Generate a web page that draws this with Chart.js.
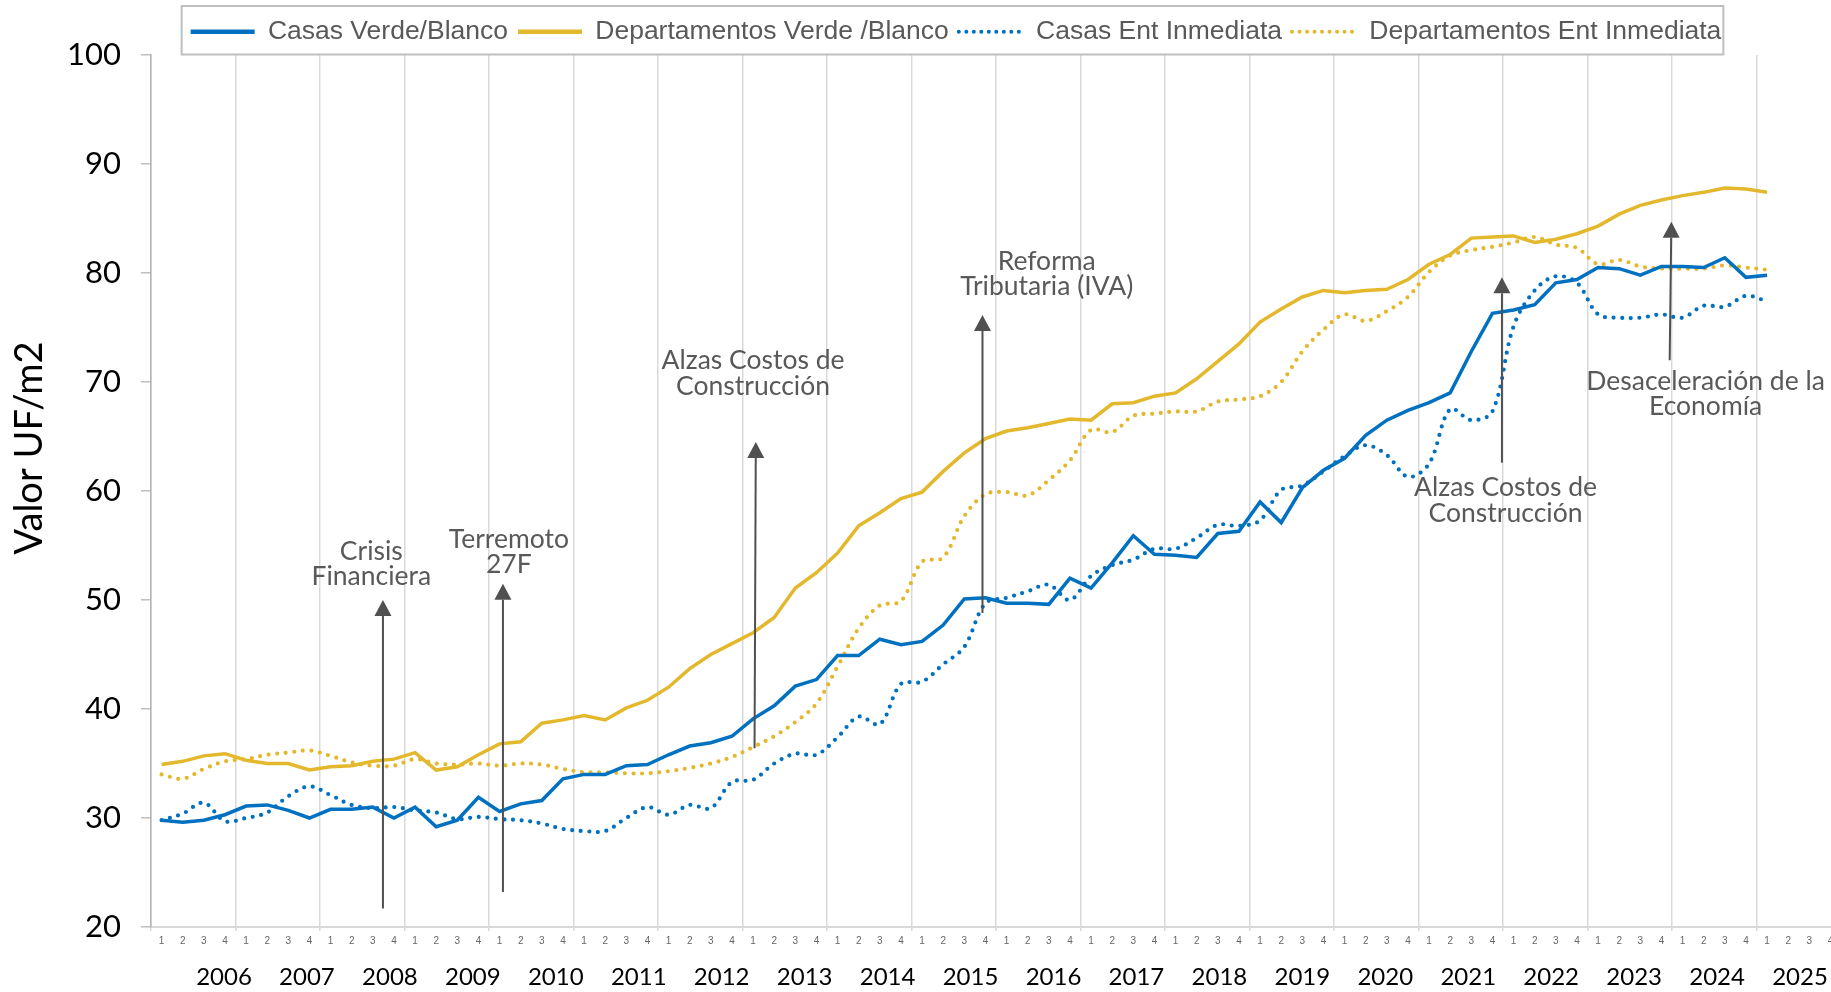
<!DOCTYPE html>
<html>
<head>
<meta charset="utf-8">
<title>Valor UF/m2</title>
<script src="https://cdn.jsdelivr.net/npm/chart.js@4.4.1/dist/chart.umd.min.js"></script>
<style>
  html, body { margin: 0; padding: 0; background: #fff; overflow: hidden; }
  #grafico { display: block; }
</style>
</head>
<body>
<canvas id="grafico" width="1850" height="992" style="width:1850px;height:992px"></canvas>
<script>
// trimestres 2006 T1 .. 2025 T1
const yearLabels = [2006, 2007, 2008, 2009, 2010, 2011, 2012, 2013, 2014, 2015,
                    2016, 2017, 2018, 2019, 2020, 2021, 2022, 2023, 2024, 2025];
const quarterNames = ['1', '2', '3', '4'];

const casasVerdeBlanco = [
  29.8, 29.6, 29.8, 30.3, 31.1, 31.2, 30.7, 30.0, 30.8, 30.8, 31.0, 30.0, 31.0, 29.2, 29.8, 31.9, 30.6, 31.3, 31.6, 33.6, 34.0, 34.0, 34.8,
  34.9, 35.8, 36.6, 36.9, 37.5, 39.1, 40.3, 42.1, 42.7, 44.9, 44.9, 46.4, 45.9, 46.2, 47.7, 50.1, 50.2, 49.7, 49.7, 49.6, 52.0, 51.1,
  53.4, 55.9, 54.2, 54.1, 53.9, 56.1, 56.3, 59.0, 57.1, 60.3, 61.9, 63.0, 65.1, 66.5, 67.4, 68.1, 69.0, 72.8, 76.3, 76.6, 77.1,
  79.1, 79.4, 80.5, 80.4, 79.8, 80.6, 80.6, 80.5, 81.4, 79.6, 79.8
];
const deptosVerdeBlanco = [
  34.9, 35.2, 35.7, 35.9, 35.3, 35.0, 35.0, 34.4, 34.7, 34.8, 35.2, 35.4, 36.0, 34.4, 34.7, 35.8, 36.8, 37.0, 38.7, 39.0, 39.4, 39.0, 40.1,
  40.8, 42.0, 43.7, 45.0, 46.0, 47.0, 48.4, 51.1, 52.5, 54.3, 56.8, 58.0, 59.3, 59.9, 61.8, 63.5, 64.8, 65.5, 65.8, 66.2, 66.6, 66.5,
  68.0, 68.1, 68.7, 69.0, 70.3, 71.9, 73.5, 75.5, 76.7, 77.8, 78.4, 78.2, 78.4, 78.5, 79.4, 80.8, 81.7, 83.2, 83.3, 83.4, 82.8,
  83.1, 83.6, 84.3, 85.4, 86.2, 86.7, 87.1, 87.4, 87.8, 87.7, 87.4
];
const casasEntInmediata = [
  29.8, 30.4, 31.4, 29.7, 30.0, 30.5, 32.0, 32.9, 32.1, 31.2, 30.9, 31.0, 30.7, 30.5, 29.9, 30.1, 29.9, 29.8, 29.5, 29.0, 28.8, 28.8, 30.0,
  31.0, 30.3, 31.2, 30.9, 33.3, 33.5, 35.0, 35.9, 35.8, 37.4, 39.3, 38.6, 42.3, 42.5, 44.1, 45.7, 49.7, 50.2, 50.8, 51.4, 50.0, 52.2,
  53.2, 53.7, 54.7, 54.7, 55.7, 56.9, 56.8, 57.3, 60.1, 60.5, 61.8, 63.2, 64.2, 63.3, 61.3, 62.5, 67.5, 66.5, 67.3, 75.1, 78.4,
  79.7, 79.1, 76.2, 75.9, 75.9, 76.2, 75.9, 77.0, 76.9, 77.9, 77.4
];
const deptosEntInmediata = [
  34.0, 33.6, 34.5, 35.2, 35.4, 35.8, 36.0, 36.2, 35.7, 35.1, 34.8, 34.8, 35.4, 35.0, 34.9, 35.0, 34.8, 35.0, 34.9, 34.5, 34.2, 34.2, 34.1,
  34.1, 34.3, 34.6, 35.0, 35.6, 36.5, 37.5, 38.8, 40.5, 43.9, 47.4, 49.5, 49.9, 53.5, 53.9, 57.7, 59.7, 59.9, 59.6, 61.0, 62.8, 65.6,
  65.4, 66.9, 67.1, 67.3, 67.3, 68.2, 68.4, 68.7, 70.0, 72.8, 74.8, 76.2, 75.6, 76.5, 77.8, 80.1, 81.6, 82.1, 82.4, 82.8, 83.3,
  82.6, 82.3, 80.8, 81.2, 80.6, 80.4, 80.4, 80.4, 80.7, 80.5, 80.3
];

// one category per quarter, 1..4 for every year
const labels = yearLabels.flatMap(() => quarterNames);

const AZUL = '#0070C0';
const DORADO = '#E3B82C';
const GRIS = '#595959';

// notes: text center and arrow in (quarter index, UF/m2)
const notas = [
  { texto: ['Crisis', 'Financiera'], tx: 9.93, ty: 53.3, desde: [10.48, 21.7], hasta: [10.48, 50.0] },
  { texto: ['Terremoto', '27F'], tx: 16.44, ty: 54.4, desde: [16.16, 23.2], hasta: [16.16, 51.5] },
  { texto: ['Alzas Costos de', 'Construcción'], tx: 28.0, ty: 70.8, desde: [28.07, 36.4], hasta: [28.13, 64.5] },
  { texto: ['Reforma', 'Tributaria (IVA)'], tx: 41.9, ty: 79.9, desde: [38.86, 48.8], hasta: [38.86, 76.15] },
  { texto: ['Alzas Costos de', 'Construcción'], tx: 63.62, ty: 59.15, desde: [63.45, 62.6], hasta: [63.45, 79.6] },
  { texto: ['Desaceleración de la', 'Economía'], tx: 73.09, ty: 68.9, desde: [71.39, 72.0], hasta: [71.47, 84.7] }
];

const notasPlugin = {
  id: 'notas',
  afterDatasetsDraw(chart) {
    const ctx = chart.ctx;
    const sx = chart.scales.x, sy = chart.scales.y;
    ctx.save();
    notas.forEach(n => {
      const x0 = sx.getPixelForValue(n.desde[0]), y0 = sy.getPixelForValue(n.desde[1]);
      const x1 = sx.getPixelForValue(n.hasta[0]), y1 = sy.getPixelForValue(n.hasta[1]);
      const ang = Math.atan2(y1 - y0, x1 - x0);
      const largo = 16, medio = 8.5;
      const bx = x1 - Math.cos(ang) * largo, by = y1 - Math.sin(ang) * largo;
      ctx.strokeStyle = '#505050';
      ctx.fillStyle = '#505050';
      ctx.lineWidth = 2;
      ctx.beginPath();
      ctx.moveTo(x0, y0);
      ctx.lineTo(bx, by);
      ctx.stroke();
      ctx.beginPath();
      ctx.moveTo(x1, y1);
      ctx.lineTo(bx + Math.sin(ang) * medio, by - Math.cos(ang) * medio);
      ctx.lineTo(bx - Math.sin(ang) * medio, by + Math.cos(ang) * medio);
      ctx.closePath();
      ctx.fill();

      const cx = sx.getPixelForValue(n.tx), cy = sy.getPixelForValue(n.ty);
      ctx.font = '26.5px Lato';
      ctx.fillStyle = GRIS;
      ctx.textAlign = 'center';
      ctx.textBaseline = 'middle';
      const alto = 25.5;
      n.texto.forEach((linea, i) => {
        ctx.fillText(linea, cx, cy + (i - (n.texto.length - 1) / 2) * alto);
      });
    });
    ctx.restore();
  }
};

// legend sits a bit right of the canvas center and has a thin frame
const leyendaPlugin = {
  id: 'leyendaMarco',
  afterLayout(chart) {
    const lg = chart.legend;
    const dx = 956 - (lg.left + lg.right) / 2;
    lg.left += dx;
    lg.right += dx;
  },
  afterDraw(chart) {
    const lg = chart.legend;
    const cajas = lg.legendHitBoxes;
    if (!cajas || !cajas.length) return;
    const a = cajas[0], b = cajas[cajas.length - 1];
    const ctx = chart.ctx;
    ctx.save();
    ctx.strokeStyle = '#bfbfbf';
    ctx.lineWidth = 2;
    ctx.strokeRect(a.left - 9, lg.top - 2.5, b.left + b.width - a.left + 11, lg.bottom - lg.top + 2);
    ctx.restore();
  }
};

Chart.defaults.font.family = 'Lato';

const ctx = document.getElementById('grafico').getContext('2d');
const grafico = new Chart(ctx, {
  type: 'line',
  data: {
    labels: labels,
    datasets: [
      { label: 'Casas Verde/Blanco', data: casasVerdeBlanco, borderColor: AZUL, backgroundColor: AZUL,
        borderWidth: 3.5, tension: 0, pointRadius: 0 },
      { label: 'Departamentos Verde /Blanco', data: deptosVerdeBlanco, borderColor: DORADO, backgroundColor: DORADO,
        borderWidth: 3.5, tension: 0, pointRadius: 0 },
      { label: 'Casas Ent Inmediata', data: casasEntInmediata, borderColor: AZUL, backgroundColor: AZUL,
        borderWidth: 4.2, borderDash: [0, 8.6], borderCapStyle: 'round', tension: 0.35, pointRadius: 0 },
      { label: 'Departamentos Ent Inmediata', data: deptosEntInmediata, borderColor: DORADO, backgroundColor: DORADO,
        borderWidth: 4.2, borderDash: [0, 8.6], borderCapStyle: 'round', tension: 0.35, pointRadius: 0 }
    ]
  },
  options: {
    responsive: false,
    animation: false,
    devicePixelRatio: 1,
    layout: { padding: { left: 0, right: 9, top: 8.5, bottom: 0 } },
    plugins: {
      tooltip: { enabled: false },
      legend: {
        position: 'top',
        labels: {
          usePointStyle: true,
          pointStyleWidth: 64,
          padding: 10,
          color: GRIS,
          font: { family: "'Liberation Sans', Arial, sans-serif", size: 26.5 },
          generateLabels: chart => chart.data.datasets.map((ds, i) => ({
            text: ds.label,
            datasetIndex: i,
            pointStyle: 'line',
            fillStyle: ds.borderColor,
            strokeStyle: ds.borderColor,
            fontColor: GRIS,
            lineWidth: ds.borderDash ? 4 : 4.5,
            lineDash: ds.borderDash ? [0, 7.5] : [],
            lineCap: ds.borderDash ? 'round' : 'butt',
            hidden: false
          }))
        }
      }
    },
    scales: {
      x: {
        type: 'category',
        position: 'bottom',
        weight: 0,
        offset: true,
        grid: {
          offset: true,
          color: c => (c.index % 4 === 0 ? '#d9d9d9' : 'rgba(0,0,0,0)'),
          lineWidth: 1.5,
          tickLength: 4
        },
        border: { color: '#d9d9d9', width: 2 },
        ticks: {
          autoSkip: false,
          maxRotation: 0,
          padding: 4,
          color: '#666',
          font: { family: "'Liberation Sans', Arial, sans-serif", size: 10 }
        },
        afterFit: axis => { axis.height = 21; }
      },
      years: {
        type: 'linear',
        position: 'bottom',
        weight: 1,
        min: 2005.12,
        max: 2025.494,
        afterBuildTicks: axis => { axis.ticks = yearLabels.map(v => ({ value: v })); },
        grid: { display: false, drawTicks: false },
        border: { display: false },
        ticks: {
          autoSkip: false,
          maxRotation: 0,
          padding: 15,
          color: '#000',
          font: { family: 'Lato', size: 24 },
          callback: v => String(v)
        },
        afterFit: axis => { axis.height = 44; }
      },
      y: {
        min: 20,
        max: 100,
        ticks: {
          stepSize: 10,
          padding: 20,
          color: '#000',
          font: { family: 'Lato', size: 31 }
        },
        grid: { drawOnChartArea: false, tickLength: 10, color: '#bfbfbf', lineWidth: 1.5 },
        border: { color: '#b3b3b3', width: 1.5 },
        title: {
          display: true,
          text: '\u00a0'.repeat(9) + 'Valor UF/m2',
          color: '#000',
          font: { family: 'Lato', size: 38 },
          padding: { top: 7, bottom: 0 }
        },
        afterFit: axis => { axis.width = 151; }
      }
    }
  },
  plugins: [notasPlugin, leyendaPlugin]
});
</script>
</body>
</html>
